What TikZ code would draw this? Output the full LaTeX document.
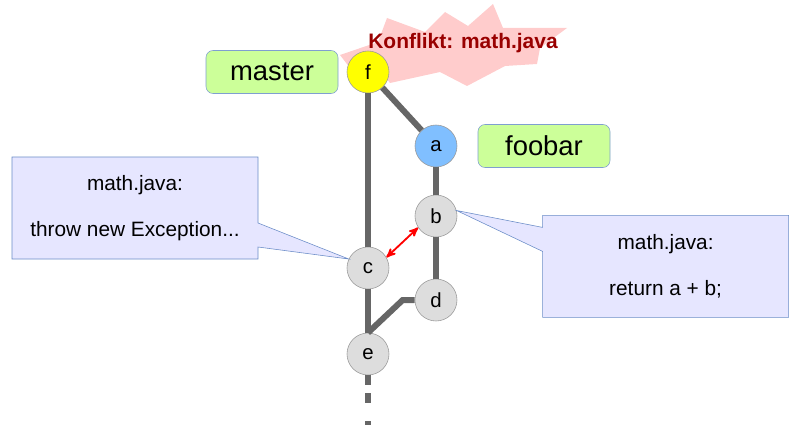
\documentclass[tikz,border=0pt]{standalone}
\usepackage{fontspec}
\setmainfont{Liberation Sans}
\usepackage{tikz}
\usetikzlibrary{arrows, positioning, shapes.callouts}

\definecolor{branchgray}{HTML}{666666}
\definecolor{nodegray}{HTML}{DDDDDD}
\definecolor{nodeborder}{HTML}{999999}
\definecolor{headyellow}{HTML}{FFFF00}
\definecolor{foobarblue}{HTML}{80BFFF}
\definecolor{labelgreen}{HTML}{CCFF99}
\definecolor{labelborder}{HTML}{7F9FD0}
\definecolor{notefill}{HTML}{E6E6FF}
\definecolor{noteborder}{HTML}{6A8CC7}
\definecolor{burstpink}{HTML}{FFCCCC}
\definecolor{konfliktred}{HTML}{990000}

\begin{document}
\begin{tikzpicture}[>=stealth',node distance=2cm,on grid]
				\useasboundingbox (0,0) rectangle (20,-10.625);
				\tikzset{commit/.style={circle,draw=nodeborder,fill=nodegray,minimum size=1.05cm,inner sep=0pt,font=\fontsize{14.5}{16}\selectfont}}
				\tikzset{branchlabel/.style={rectangle,rounded corners=5pt,draw=labelborder,fill=labelgreen,minimum width=3.3cm,minimum height=1.075cm,font=\fontsize{19.5}{22}\selectfont}}
				\tikzset{note/.style={rectangle callout,draw=noteborder,fill=notefill,minimum width=6.15cm,minimum height=2.55cm,inner sep=0pt,callout pointer width=0.6cm,align=center,font=\fontsize{14.8}{32.7}\selectfont}}
				\tikzset{branch/.style={draw=branchgray,line width=0.15cm}}

				% conflict burst
				\fill[burstpink] (8.5,-1.375) -- (9.45,-1.05) -- (9.675,-0.45) -- (10.625,-0.8) -- (11.125,-0.3) -- (11.7,-0.65) -- (12.325,-0.1) -- (12.575,-0.7) -- (14.175,-0.7) -- (13.5,-1.2) -- (13.425,-1.6) -- (12.625,-1.65) -- (11.675,-2.15) -- (11.0,-1.8) -- (9.75,-2.075) -- (9.45,-1.7) -- (8.75,-1.7) -- cycle;
				\node (konflikt) at (11.575,-1.075) {\fontsize{14.9}{17}\selectfont\bfseries\color{konfliktred}Konflikt: math.java};

				\node[commit,fill=headyellow] (f) at (9.2,-1.8) {f};
				\node[commit,fill=foobarblue] (a) [below right=1.85cm and 1.7cm of f] {a};
				\node[commit] (b) [below=1.75cm of a] {b};
				\node[commit] (c) [below=4.9cm of f] {c};
				\node[commit] (d) [below=2.1cm of b] {d};
				\node[commit] (e) [below=2.15cm of c] {e};
				\coordinate (tail) at (9.2,-10.625);

				\node[branchlabel] (master) [left=2.4cm of f] {master};
				\node[branchlabel] (foobar) [right=2.7cm of a] {foobar};

				\path (f) edge [branch] (c);
				\path (f) edge [branch] (a);
				\path (a) edge [branch] (b);
				\path (b) edge [branch] (d);
				\path (c) edge [branch] (e);
				\draw[branch] (d.west) -- ++(-0.3,0) -- (e.north);
				\draw[branch,dash pattern=on 0.25cm off 0.2cm on 0.25cm off 0.45cm] (e) -- (tail);

				\draw[<->,red,line width=1.3pt] (c.30) -- (b.213);

				\node[note,callout absolute pointer={(c.155)}] (notec) [above left=1.5cm and 5.825cm of c] {math.java:\\throw new Exception...};
				\node[note,callout absolute pointer={(b.15)}] (noteb) [below right=1.26cm and 5.74cm of b] {math.java:\\return a + b;};
			\end{tikzpicture}
\end{document}
